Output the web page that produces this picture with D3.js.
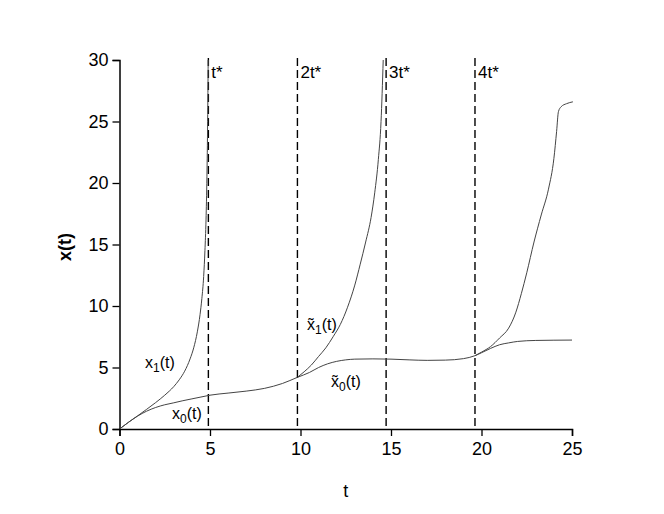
<!DOCTYPE html>
<html>
<head>
<meta charset="utf-8">
<script src="https://cdn.jsdelivr.net/npm/d3@7"></script>
<style>
    body { margin: 0; background: #fff; }
    text { font-family: Arial, "Liberation Sans", sans-serif; fill: #000; }
</style>
</head>
<body>
<div id="chart"></div>
<script>

// Lower trajectory x0(t) and its continuation x~0(t)
var x0_t = [0, 0.5, 1, 1.5, 2, 2.5, 3, 3.5, 4, 4.5, 5, 6, 7, 8, 9, 9.83, 10.5, 11, 11.5, 12, 12.5, 13, 14, 15, 16, 17, 18, 19, 19.64, 20, 20.5, 21, 21.5, 22, 23, 24, 25];
var x0_v = [0, 0.55, 1.05, 1.45, 1.75, 1.97, 2.13, 2.3, 2.45, 2.6, 2.75, 2.92, 3.08, 3.3, 3.7, 4.2, 4.6, 5.0, 5.3, 5.5, 5.62, 5.68, 5.7, 5.68, 5.62, 5.58, 5.6, 5.72, 5.96, 6.2, 6.55, 6.85, 7.0, 7.12, 7.2, 7.22, 7.23];

// First blow-up x1(t)
var x1_t = [0, 0.5, 1, 1.5, 2, 2.5, 3, 3.3, 3.6, 3.9, 4.1, 4.3, 4.45, 4.55, 4.65, 4.72, 4.78, 4.83, 4.87, 4.9];
var x1_v = [0, 0.55, 1.07, 1.6, 2.15, 2.75, 3.45, 4.0, 4.7, 5.7, 6.6, 7.9, 9.3, 10.6, 12.4, 14.5, 17, 20.5, 25, 30];

// Second blow-up x~1(t)
var x1b_t = [9.83, 10.2, 10.6, 11, 11.4, 11.8, 12.2, 12.6, 13, 13.3, 13.6, 13.9, 14.1, 14.3, 14.45, 14.57];
var x1b_v = [4.2, 4.65, 5.2, 5.9, 6.6, 7.5, 8.5, 9.9, 11.7, 13.4, 15.2, 17.2, 19.2, 21.9, 25, 30];

// Branch after 4t*
var x2_t = [19.64, 20, 20.5, 21, 21.5, 21.9, 22.2, 22.5, 22.9, 23.3, 23.7, 24.0, 24.15, 24.25, 24.4, 24.7, 25.05];
var x2_v = [5.96, 6.25, 6.7, 7.4, 8.2, 9.5, 11.0, 12.7, 15.2, 17.4, 19.5, 22.0, 24.2, 25.8, 26.2, 26.45, 26.6];

// Critical times
var tStar = [4.91, 9.83, 14.73, 19.64];
var tStarLabels = ["t*", "2t*", "3t*", "4t*"];

var xTicks = [0, 5, 10, 15, 20, 25];
var yTicks = [0, 5, 10, 15, 20, 25, 30];

var margin = {top: 60, left: 119.5};
var width = 452.5, height = 369;

var svg = d3.select("#chart")
    .append("svg")
    .attr("width", 664)
    .attr("height", 514)
    .append("g")
    .attr("transform", "translate(" + margin.left + "," + margin.top + ")");

var xScale = d3.scaleLinear().domain([0, 25]).range([0, width]);
var yScale = d3.scaleLinear().domain([0, 30]).range([height, 0]);

// clip so the blow-ups stop at the top
svg.append("clipPath").attr("id", "clip")
    .append("rect").attr("x", 0).attr("y", -1).attr("width", width + 2).attr("height", height + 1);

/**
 * Axes: left and bottom only, outward ticks with minors at half steps
 */
var xMinor = d3.range(0, 25.01, 2.5);
var yMinor = d3.range(0, 30.01, 2.5);

var xAxis = svg.append("g")
    .attr("transform", "translate(0," + height + ")")
    .call(d3.axisBottom(xScale).tickValues(xMinor).tickSize(4).tickFormat(""));
xAxis.call(d3.axisBottom(xScale).tickValues(xTicks).tickSize(7).tickPadding(6).tickFormat(d3.format("d")));

var yAxis = svg.append("g")
    .call(d3.axisLeft(yScale).tickValues(yMinor).tickSize(4).tickFormat(""));
yAxis.call(d3.axisLeft(yScale).tickValues(yTicks).tickSize(7).tickPadding(4).tickFormat(d3.format("d")));

svg.selectAll(".domain").attr("stroke", "#000").attr("stroke-width", 1.5);
svg.selectAll(".tick line").attr("stroke", "#000").attr("stroke-width", 1.3);
svg.selectAll(".tick text").style("font-size", "18px").style("font-family", "Arial, 'Liberation Sans', sans-serif").attr("fill", "#000");

// axis titles
svg.append("text")
    .attr("x", xScale(12.5))
    .attr("y", height + 68)
    .attr("text-anchor", "middle")
    .style("font-size", "18px")
    .text("t");

svg.append("text")
    .attr("transform", "translate(" + (-49) + "," + yScale(14.8) + ")rotate(-90)")
    .attr("text-anchor", "middle")
    .style("font-size", "18px")
    .style("font-weight", "bold")
    .text("x(t)");

/**
 * Dashed vertical lines at multiples of t*
 */
svg.selectAll(".tline")
    .data(tStar)
    .enter()
    .append("line")
    .attr("x1", function(d) { return xScale(d); })
    .attr("x2", function(d) { return xScale(d); })
    .attr("y1", yScale(30) - 2)
    .attr("y2", yScale(0))
    .attr("stroke", "#000")
    .attr("stroke-width", 1.4)
    .attr("stroke-dasharray", "8,4");

svg.selectAll(".tlabel")
    .data(tStar)
    .enter()
    .append("text")
    .attr("x", function(d) { return xScale(d) + 3; })
    .attr("y", yScale(30) + 18)
    .style("font-size", "17px")
    .text(function(d, i) { return tStarLabels[i]; });

/**
 * Curves
 */
function toPts(ts, vs) {
    return ts.map(function(t, i) { return [t, vs[i]]; });
}

var line = d3.line()
    .x(function(d) { return xScale(d[0]); })
    .y(function(d) { return yScale(d[1]); })
    .curve(d3.curveMonotoneX);

var curves = [toPts(x0_t, x0_v), toPts(x1_t, x1_v), toPts(x1b_t, x1b_v), toPts(x2_t, x2_v)];

svg.append("g")
    .attr("clip-path", "url(#clip)")
    .selectAll("path")
    .data(curves)
    .enter()
    .append("path")
    .attr("d", line)
    .attr("fill", "none")
    .attr("stroke", "#444")
    .attr("stroke-width", 1);

/**
 * Curve labels with subscripts (and tilde for the restarted ones)
 */
function curveLabel(x, y, sub, tilde) {
    var t = svg.append("text")
        .attr("x", x)
        .attr("y", y)
        .style("font-size", "16px");
    t.append("tspan").text(tilde ? "x\u0303" : "x");
    t.append("tspan").attr("dy", 4).style("font-size", "12px").text(sub);
    t.append("tspan").attr("dy", -4).text("(t)");
}

curveLabel(145 - margin.left, 368 - margin.top, "1", false);
curveLabel(172 - margin.left, 419 - margin.top, "0", false);
curveLabel(307 - margin.left, 330 - margin.top, "1", true);
curveLabel(331 - margin.left, 387 - margin.top, "0", true);

</script>
</body>
</html>
